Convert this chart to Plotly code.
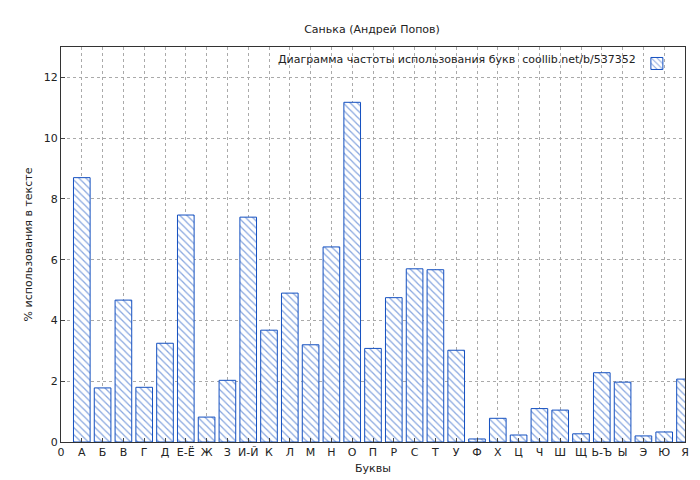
import plotly.graph_objects as go

letters = ["А", "Б", "В", "Г", "Д", "Е-Ё", "Ж", "З", "И-Й", "К", "Л", "М", "Н", "О", "П",
           "Р", "С", "Т", "У", "Ф", "Х", "Ц", "Ч", "Ш", "Щ", "Ь-Ъ", "Ы", "Э", "Ю", "Я"]
percent = [8.7, 1.78, 4.67, 1.8, 3.25, 7.47, 0.82, 2.03, 7.4, 3.68, 4.9, 3.2, 6.42, 11.18, 3.08,
           4.75, 5.7, 5.67, 3.02, 0.1, 0.78, 0.23, 1.1, 1.05, 0.27, 2.28, 1.97, 0.2, 0.33, 2.07]
tick_labels = ["0"] + letters
positions = list(range(1, len(letters) + 1))

blue = "#1450c0"

fig = go.Figure()
fig.add_trace(go.Bar(
    x=positions, y=percent, width=0.8, name="",
    marker=dict(color="white", line=dict(color=blue, width=1),
                pattern=dict(shape="\\", fgcolor=blue, bgcolor="white", size=5, solidity=0.25)),
    showlegend=True,
))

fig.update_layout(
    width=700, height=480,
    paper_bgcolor="white", plot_bgcolor="white",
    font=dict(family="DejaVu Sans", size=11, color="#222"),
    title=dict(text="Санька (Андрей Попов)", x=0.52, y=0.965, xanchor="center", font=dict(size=11)),
    margin=dict(l=53, r=23, t=39, b=46),
    bargap=0.2,
    legend=dict(x=0.995, y=0.995, xanchor="right", yanchor="top", bgcolor="rgba(0,0,0,0)",
                itemwidth=30, font=dict(size=11)),
    annotations=[dict(text="Диаграмма частоты использования букв  coollib.net/b/537352",
                      xref="paper", yref="paper", x=0.925, y=0.99, xanchor="right", yanchor="top",
                      showarrow=False, font=dict(size=11))],
)
fig.update_xaxes(range=[0, 30], tickvals=list(range(0, 31)), ticktext=tick_labels, automargin=False,
                 title=dict(text="Буквы", standoff=6, font=dict(size=11)), showgrid=True,
                 gridcolor="#aaa", griddash="dot", tickfont=dict(size=11),
                 showline=True, linecolor="#333", mirror=True, ticks="inside", ticklen=4, zeroline=False)
fig.update_yaxes(range=[0, 13], dtick=2, automargin=False,
                 title=dict(text="% использования в тексте", standoff=8, font=dict(size=11)),
                 showgrid=True, gridcolor="#aaa", griddash="dot", tickfont=dict(size=11),
                 showline=True, linecolor="#333", mirror=True, ticks="inside", ticklen=4, zeroline=False)

fig.write_html("out.html")
